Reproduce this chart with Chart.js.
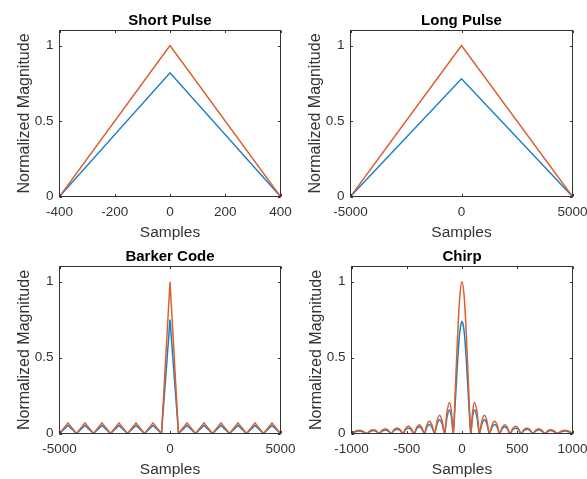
<!DOCTYPE html>
<html>
<head>
<meta charset="utf-8">
<script src="https://cdn.jsdelivr.net/npm/chart.js@4.4.1/dist/chart.umd.min.js"></script>
<style>
  body { margin: 0; background: #fff; }
  #wrap { position: relative; width: 587px; height: 479px; overflow: hidden; background: #fff; }
  #wrap canvas { position: absolute; left: 0; top: 0; }
</style>
</head>
<body>
<div id="wrap">
  <canvas id="shortPulse" width="587" height="479"></canvas>
  <canvas id="longPulse" width="587" height="479"></canvas>
  <canvas id="barkerCode" width="587" height="479"></canvas>
  <canvas id="chirp" width="587" height="479"></canvas>
</div>
<script>
// --- DATA ---
const yTicks = [0, 0.5, 1];

// Short Pulse
const shortTicks = [-400, -200, 0, 200, 400];
const shortX = [-400, 0, 400];
const shortBlue = [0, 0.82, 0];
const shortOrange = [0, 1, 0];

// Long Pulse
const longTicks = [-5000, 0, 5000];
const longX = [-5000, 0, 5000];
const longBlue = [0, 0.78, 0];
const longOrange = [0, 1, 0];

// Barker Code
const barkerTicks = [-5000, 0, 5000];
const barkerX = [-5000, -4615, -4231, -3846, -3462, -3077, -2692, -2308, -1923, -1538, -1154, -769, -385, 0,
                 385, 769, 1154, 1538, 1923, 2308, 2692, 3077, 3462, 3846, 4231, 4615, 5000];
const barkerBlue = [0, 0.053, 0, 0.053, 0, 0.053, 0, 0.053, 0, 0.053, 0, 0.053, 0, 0.75,
                    0, 0.053, 0, 0.053, 0, 0.053, 0, 0.053, 0, 0.053, 0, 0.053, 0];
const barkerOrange = [0, 0.07, 0, 0.07, 0, 0.07, 0, 0.07, 0, 0.07, 0, 0.07, 0, 1,
                      0, 0.07, 0, 0.07, 0, 0.07, 0, 0.07, 0, 0.07, 0, 0.07, 0];

// Chirp
const chirpTicks = [-1000, -500, 0, 500, 1000];
const chirpX = [-1000, -966, -933, -897, -862, -831, -800, -775, -751, -722, -694, -667, -641, -614, -588, -561,
                -535, -510, -485, -460, -434, -410, -387, -364, -341, -318, -295, -272, -248, -225, -203, -180,
                -158, -135, -113, -96, -80, -60, -40, -20, 0, 20, 40, 60, 80, 96, 113, 135, 158,
                180, 203, 225, 248, 272, 295, 318, 341, 364, 387, 410, 434, 460, 485, 510, 535,
                561, 588, 614, 641, 667, 694, 722, 751, 775, 800, 831, 862, 897, 933, 966, 1000];
const chirpBlue = [0, 0.011, 0.016, 0.011, 0, 0.013, 0.019, 0.013, 0, 0.016, 0.023, 0.016, 0, 0.02, 0.028, 0.02,
                   0, 0.025, 0.035, 0.025, 0, 0.031, 0.044, 0.031, 0, 0.042, 0.06, 0.042, 0, 0.063, 0.09, 0.063,
                   0, 0.11, 0.155, 0.11, 0, 0.22, 0.47, 0.67, 0.74, 0.67, 0.47, 0.22, 0, 0.11, 0.155, 0.11, 0,
                   0.063, 0.09, 0.063, 0, 0.042, 0.06, 0.042, 0, 0.031, 0.044, 0.031, 0, 0.025, 0.035, 0.025, 0,
                   0.02, 0.028, 0.02, 0, 0.016, 0.023, 0.016, 0, 0.013, 0.019, 0.013, 0, 0.011, 0.016, 0.011, 0];
const chirpOrange = [0, 0.016, 0.022, 0.016, 0, 0.018, 0.025, 0.018, 0, 0.022, 0.031, 0.022, 0, 0.026, 0.037, 0.026,
                     0, 0.033, 0.047, 0.033, 0, 0.041, 0.058, 0.041, 0, 0.056, 0.08, 0.056, 0, 0.084, 0.12, 0.084,
                     0, 0.145, 0.205, 0.145, 0, 0.3, 0.64, 0.9, 1, 0.9, 0.64, 0.3, 0, 0.145, 0.205, 0.145, 0,
                     0.084, 0.12, 0.084, 0, 0.056, 0.08, 0.056, 0, 0.041, 0.058, 0.041, 0, 0.033, 0.047, 0.033, 0,
                     0.026, 0.037, 0.026, 0, 0.022, 0.031, 0.022, 0, 0.018, 0.025, 0.018, 0, 0.016, 0.022, 0.016, 0];

// --- STYLE ---
const BLUE = '#1A80C8';
const ORANGE = '#DD5F2E';
const INK = '#333333';
const FONT = '"Liberation Sans", Arial, Helvetica, sans-serif';
const Y_W = 59;              // y axis box width
const X_H = 46;              // x axis box height
const TITLE_H = 15 * 1.2 + 6;

Chart.defaults.font.family = FONT;

function pairs(xs, ys) {
    return xs.map((x, i) => ({ x: x, y: ys[i] }));
}

// box with inward ticks on all four sides
const matlabBox = {
    id: 'matlabBox',
    afterDatasetsDraw(chart) {
        const { ctx, chartArea: a, scales: { x, y } } = chart;
        const tl = 2.5;
        ctx.save();
        ctx.strokeStyle = INK;
        ctx.lineWidth = 1;
        ctx.beginPath();
        x.ticks.forEach(t => {
            const px = Math.round(x.getPixelForValue(t.value)) + 0.5;
            ctx.moveTo(px, a.bottom); ctx.lineTo(px, a.bottom - tl);
            ctx.moveTo(px, a.top); ctx.lineTo(px, a.top + tl);
        });
        y.ticks.forEach(t => {
            const py = Math.round(y.getPixelForValue(t.value)) + 0.5;
            ctx.moveTo(a.left, py); ctx.lineTo(a.left + tl, py);
            ctx.moveTo(a.right, py); ctx.lineTo(a.right - tl, py);
        });
        ctx.stroke();
        ctx.strokeRect(a.left, a.top, a.right - a.left, a.bottom - a.top);
        ctx.restore();
    }
};

function drawPanel(id, area, title, xs, blueY, orangeY, xTicks, tension) {
    return new Chart(document.getElementById(id), {
        type: 'line',
        data: {
            datasets: [
                { data: pairs(xs, blueY), borderColor: BLUE, order: 1 },
                { data: pairs(xs, orangeY), borderColor: ORANGE, order: 0 }
            ]
        },
        options: {
            responsive: false,
            animation: false,
            layout: { padding: { left: area.l - Y_W, top: area.t - TITLE_H, right: 587 - area.r, bottom: 479 - area.b - X_H } },
            elements: { point: { radius: 0 }, line: { borderWidth: 1.5, tension: tension, fill: false } },
            plugins: {
                legend: { display: false },
                tooltip: { enabled: false },
                title: {
                    display: true, text: title, fullSize: false, color: '#000',
                    font: { size: 15, weight: 'bold', lineHeight: 1.2 },
                    padding: { top: 5, bottom: 1 }
                }
            },
            scales: {
                x: {
                    type: 'linear', min: xTicks[0], max: xTicks[xTicks.length - 1],
                    grid: { display: false, drawTicks: false }, border: { display: false },
                    afterBuildTicks: s => { s.ticks = xTicks.map(v => ({ value: v })); },
                    afterFit: s => { s.height = X_H; s.paddingLeft = 0; s.paddingRight = 0; },
                    ticks: { color: INK, font: { size: 13.5 }, padding: 8, maxRotation: 0, autoSkip: false, callback: v => String(v) },
                    title: { display: true, text: 'Samples', color: INK, font: { size: 15.5 }, padding: { top: 0, bottom: 0 } }
                },
                y: {
                    type: 'linear', min: 0, max: 1.1,
                    grid: { display: false, drawTicks: false }, border: { display: false },
                    afterBuildTicks: s => { s.ticks = yTicks.map(v => ({ value: v })); },
                    afterFit: s => { s.width = Y_W; s.paddingTop = 0; s.paddingBottom = 0; },
                    ticks: { color: INK, font: { size: 13.5 }, padding: 6, autoSkip: false, callback: v => String(v) },
                    title: { display: true, text: 'Normalized Magnitude', color: INK, font: { size: 16 }, padding: { top: 14, bottom: 0 } }
                }
            }
        },
        plugins: [matlabBox]
    });
}

drawPanel('shortPulse', { l: 59.5, t: 30.5, r: 280.5, b: 196.5 }, 'Short Pulse', shortX, shortBlue, shortOrange, shortTicks, 0);
drawPanel('longPulse', { l: 350.5, t: 30.5, r: 572.5, b: 196.5 }, 'Long Pulse', longX, longBlue, longOrange, longTicks, 0);
drawPanel('barkerCode', { l: 59.5, t: 266.5, r: 280.5, b: 433.5 }, 'Barker Code', barkerX, barkerBlue, barkerOrange, barkerTicks, 0);
drawPanel('chirp', { l: 351.5, t: 266.5, r: 572.5, b: 433.5 }, 'Chirp', chirpX, chirpBlue, chirpOrange, chirpTicks, 0.3);
</script>
</body>
</html>
